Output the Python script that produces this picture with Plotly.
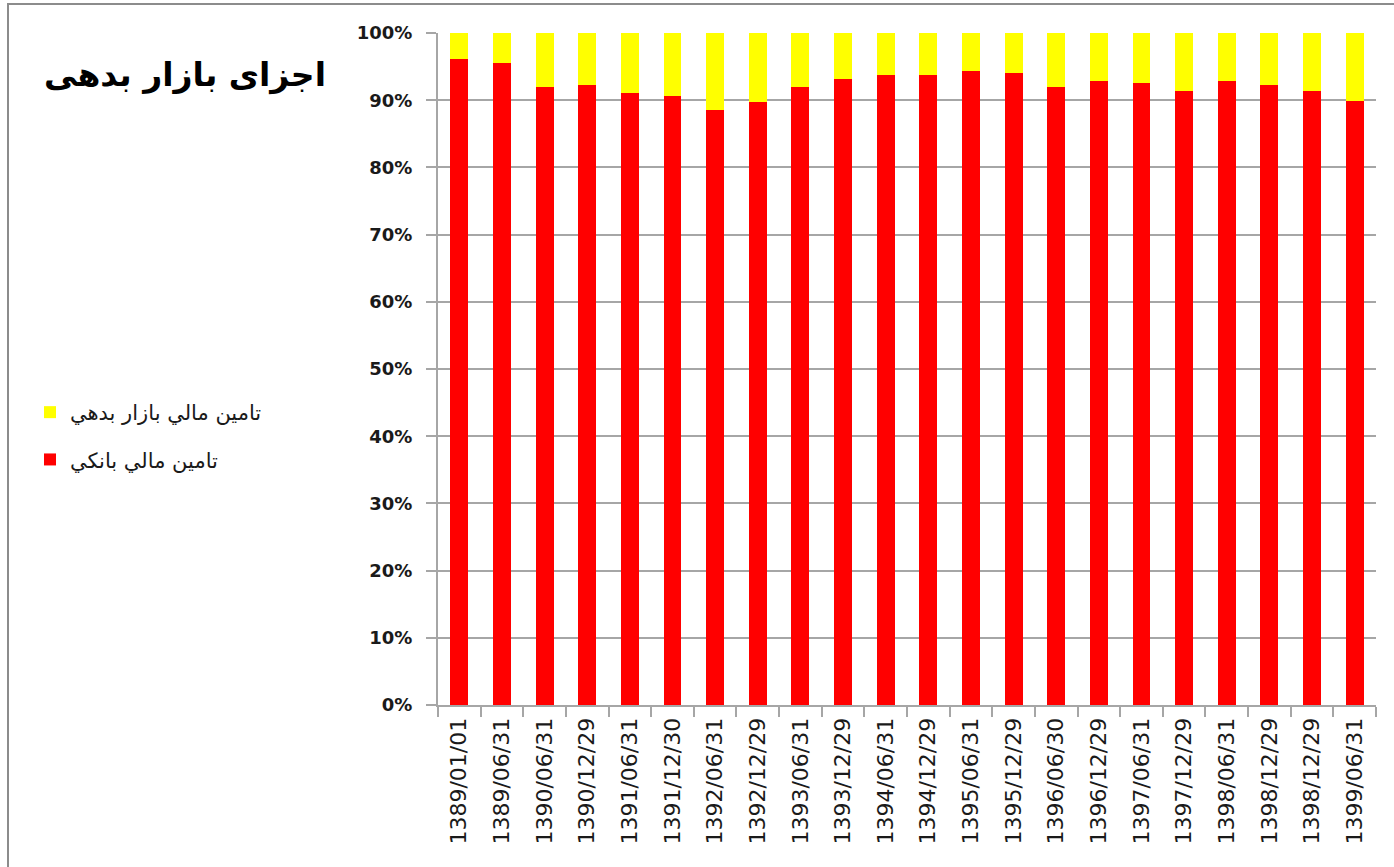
import plotly.graph_objects as go

categories = ["1389/01/01", "1389/06/31", "1390/06/31", "1390/12/29", "1391/06/31",
              "1391/12/30", "1392/06/31", "1392/12/29", "1393/06/31", "1393/12/29",
              "1394/06/31", "1394/12/29", "1395/06/31", "1395/12/29", "1396/06/30",
              "1396/12/29", "1397/06/31", "1397/12/29", "1398/06/31", "1398/12/29",
              "1398/12/29\u200b", "1399/06/31"]  # the repeated label is kept distinct

bank_share = [96.1, 95.5, 91.9, 92.2, 91.0, 90.7, 88.6, 89.8, 91.9, 93.1, 93.7,
              93.7, 94.3, 94.0, 91.9, 92.8, 92.5, 91.3, 92.8, 92.2, 91.3, 89.9]
debt_market_share = [round(100 - v, 1) for v in bank_share]

name_bank = "تامین مالي بانکي"
name_debt = "تامین مالي بازار بدهي"
title_text = "اجزای بازار بدهی"
y_ticks = [0, 10, 20, 30, 40, 50, 60, 70, 80, 90, 100]
y_tick_labels = [f"{v}%" for v in y_ticks]

W, H = 1394, 867
L, R, T, B = 438, 18, 33, 162
pw, ph = W - L - R, H - T - B

fig = go.Figure()
fig.add_trace(go.Bar(x=categories, y=bank_share, name=name_bank,
                     marker=dict(color="#FF0000", line=dict(width=0)),
                     legendgroup="bank", legendrank=2))
fig.add_trace(go.Bar(x=categories, y=debt_market_share, name=name_debt,
                     marker=dict(color="#FFFF00", line=dict(width=0)),
                     legendgroup="debt", legendrank=1))

grid = "#A6A6A6"
fig.update_layout(
    width=W, height=H,
    margin=dict(l=L, r=R, t=T, b=B, autoexpand=False),
    barmode="stack", bargap=0.58,
    plot_bgcolor="white", paper_bgcolor="white",
    font=dict(family="DejaVu Sans", color="#1a1a1a"),
    xaxis=dict(type="category", tickangle=-90, tickson="boundaries",
               ticks="outside", ticklen=10, tickcolor=grid, tickwidth=2,
               showline=True, linecolor=grid, linewidth=2,
               tickfont=dict(size=22, family="DejaVu Sans", color="#1a1a1a"),
               showgrid=False, ticklabelstandoff=2),
    yaxis=dict(range=[0, 100], tickvals=y_ticks, ticktext=y_tick_labels,
               ticks="outside", ticklen=10, tickcolor=grid, tickwidth=2,
               showline=True, linecolor=grid, linewidth=2,
               showgrid=True, gridcolor=grid, gridwidth=2,
               tickfont=dict(size=18, family="DejaVu Sans", weight="bold", color="#1a1a1a"),
               zeroline=False, ticklabelstandoff=10),
    legend=dict(x=(30 - L) / pw, xanchor="left", y=(H - B - 392) / ph, yanchor="top",
                font=dict(size=21, family="DejaVu Sans", color="#1a1a1a"),
                traceorder="grouped", tracegroupgap=17, bgcolor="rgba(0,0,0,0)"),
    showlegend=True,
)

fig.add_annotation(text=title_text, xref="paper", yref="paper",
                   x=(328 - L) / pw, y=(H - B - 75) / ph, xanchor="right", yanchor="middle",
                   showarrow=False,
                   font=dict(size=33, family="DejaVu Sans", weight="bold", color="black"))

# chart border (left and top edges)
fig.add_shape(type="rect", xref="paper", yref="paper",
              x0=(8 - L) / pw, x1=(W + 5 - L) / pw,
              y0=(H - B - (H + 5)) / ph, y1=(H - B - 4) / ph,
              line=dict(color="#8c8c8c", width=2), layer="below")

fig.write_html("out.html", config={"displayModeBar": False},
               post_script="document.body.style.margin='0';")
